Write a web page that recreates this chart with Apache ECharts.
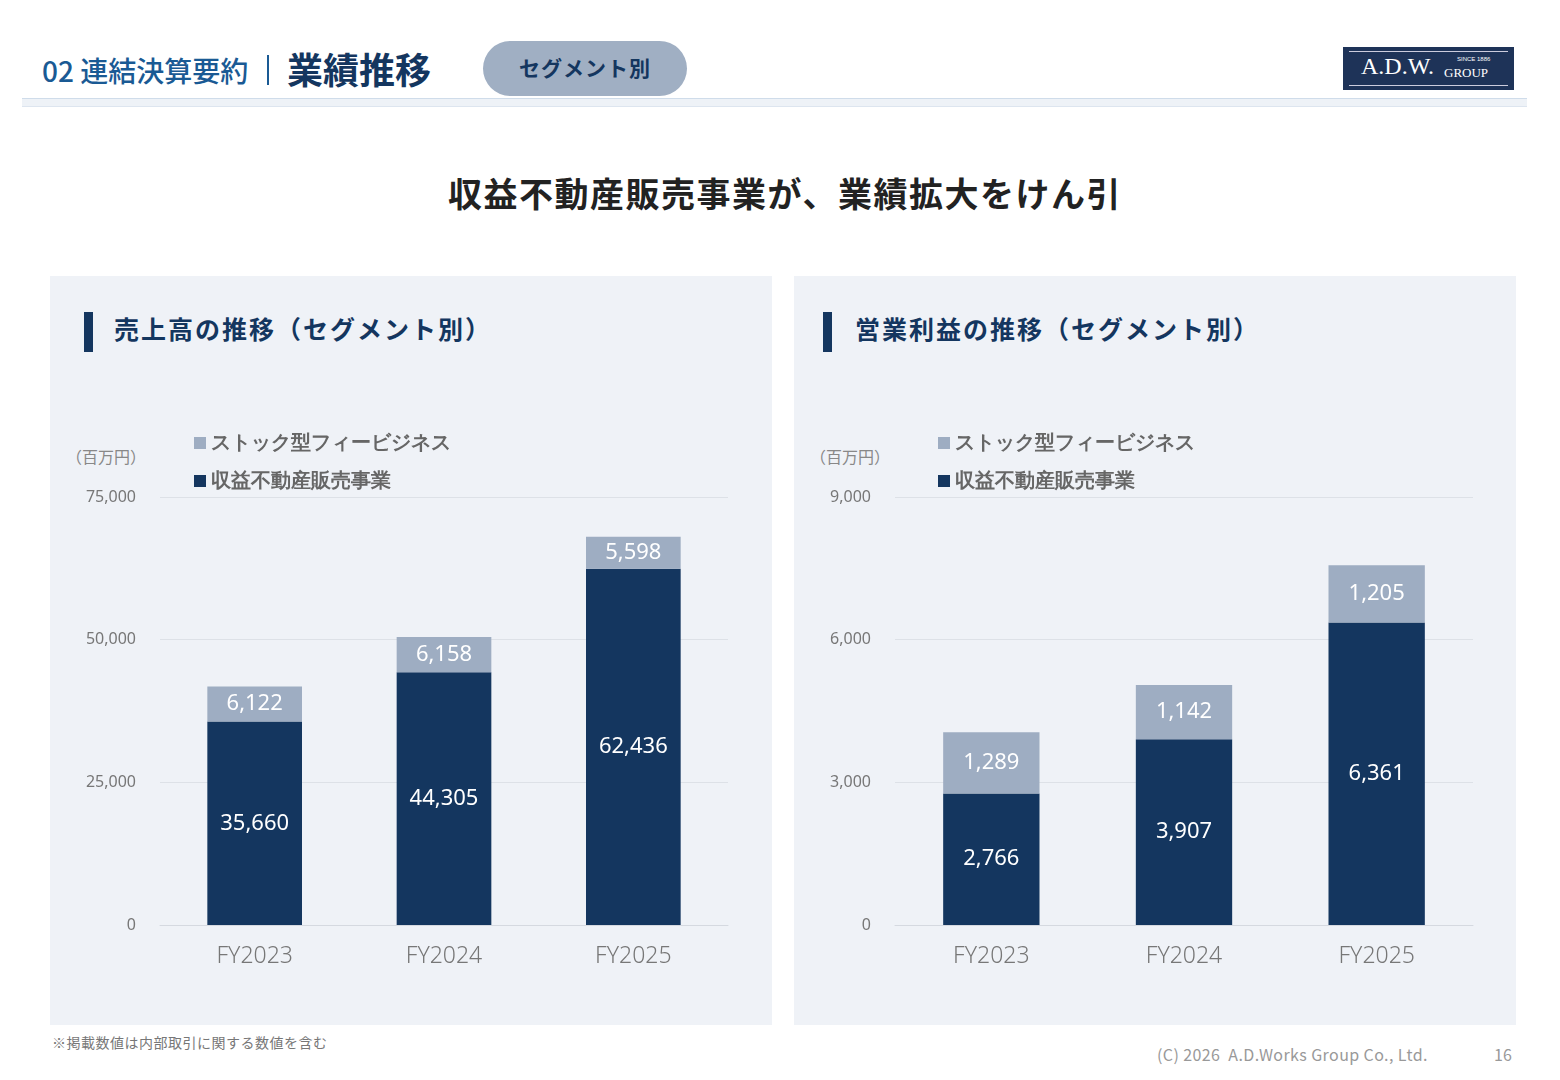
<!DOCTYPE html>
<html><head><meta charset="utf-8">
<script src="https://cdn.jsdelivr.net/npm/echarts@6/dist/echarts.min.js"></script>
<style>
body{margin:0;width:1560px;height:1080px;background:#fff;font-family:"Noto Sans CJK JP","Noto Sans",sans-serif;position:relative;overflow:hidden}
.a{position:absolute;white-space:nowrap}
</style></head><body>
<div class="a" style="left:42px;top:50px;font-size:28px;color:#1a5a94;font-weight:500">02 連結決算要約</div>
<div class="a" style="left:267px;top:55px;width:2px;height:30px;background:#1a5a94"></div>
<div class="a" style="left:287px;top:42px;font-size:36px;color:#14365f;font-weight:700">業績推移</div>
<div class="a" style="left:483px;top:41px;width:204px;height:55px;border-radius:28px;background:#a0afc3;color:#14365f;font-size:21px;font-weight:700;text-align:center;line-height:52px;letter-spacing:1px">セグメント別</div>
<div class="a" style="left:1343px;top:47px;width:171px;height:43px;background:#1e3358;color:#fff">
 <div class="a" style="left:6px;top:4px;width:159px;height:1px;background:#ccd"></div>
 <div class="a" style="left:6px;top:38px;width:159px;height:1px;background:#ccd"></div>
 <div class="a" style="left:18px;top:6px;font-family:'Liberation Serif';font-size:24px">A.D.W.</div>
 <div class="a" style="left:114px;top:9px;font-family:'Liberation Sans';font-size:6px">SINCE 1886</div>
 <div class="a" style="left:101px;top:18px;font-family:'Liberation Serif';font-size:13px">GROUP</div>
</div>
<div class="a" style="left:22px;top:98px;width:1505px;height:7px;background:#eef2f7;border-top:1px solid #cfdcea;border-bottom:1px solid #dde5ef"></div>
<div class="a" style="left:0;top:168px;width:1570px;text-align:center;font-size:34px;font-weight:700;color:#222;letter-spacing:1.5px">収益不動産販売事業が、業績拡大をけん引</div>
<div class="a" style="left:50px;top:276px;width:722px;height:749px;background:#eff2f7"></div>
<div class="a" style="left:794px;top:276px;width:722px;height:749px;background:#eff2f7"></div>
<div class="a" style="left:84px;top:312px;width:9px;height:40px;background:#14365f"></div>
<div class="a" style="left:114px;top:310px;font-size:25px;font-weight:700;color:#14365f;letter-spacing:2px">売上高の推移（セグメント別）</div>
<div class="a" style="left:823px;top:312px;width:9px;height:40px;background:#14365f"></div>
<div class="a" style="left:855px;top:310px;font-size:25px;font-weight:700;color:#14365f;letter-spacing:2px">営業利益の推移（セグメント別）</div>
<div class="a" style="left:66px;top:444px;font-size:16px;color:#888">（百万円）</div>
<div class="a" style="left:810px;top:444px;font-size:16px;color:#888">（百万円）</div>
<div class="a" style="left:52px;top:1032px;font-size:14px;color:#777;letter-spacing:0.5px">※掲載数値は内部取引に関する数値を含む</div>
<div class="a" style="left:1157px;top:1042px;font-size:16px;color:#999;letter-spacing:0.4px">(C) 2026&nbsp; A.D.Works Group Co., Ltd.</div>
<div class="a" style="left:1494px;top:1042px;font-size:16px;color:#999">16</div>
<div id="c" class="a" style="left:0;top:0;width:1560px;height:1080px"></div>
<script>
const categories=['FY2023','FY2024','FY2025'];
const salesRealEstate=[35660,44305,62436];
const salesStock=[6122,6158,5598];
const opRealEstate=[2766,3907,6361];
const opStock=[1289,1142,1205];
const salesTicks=[0,25000,50000,75000];
const opTicks=[0,3000,6000,9000];
const DARK='#14365f',LIGHT='#9eadc2';
const fmt=v=>v.toLocaleString('en-US');
function xa(i){return {type:'category',gridIndex:i,data:categories,axisLine:{lineStyle:{color:'#d5d9e0'}},axisTick:{show:false},axisLabel:{fontSize:23,color:'#777',margin:20,fontFamily:'Noto Sans',fontWeight:300}};}
function ya(i,t){return {type:'value',gridIndex:i,min:t[0],max:t[t.length-1],interval:t[1]-t[0],axisLabel:{fontSize:16,color:'#777',margin:24,formatter:fmt,fontFamily:'Noto Sans'},splitLine:{lineStyle:{color:'#dde1e7'}}};}
function lab(){return {show:true,position:'inside',color:'#fff',fontSize:22,formatter:p=>fmt(p.value),fontFamily:'Noto Sans'};}
function s(name,data,i,color,st){return {name,type:'bar',stack:st,xAxisIndex:i,yAxisIndex:i,data,barWidth:'50%',itemStyle:{color},label:lab()};}
const ch=echarts.init(document.getElementById('c'));
const lg=l=>({left:l,top:428,orient:'vertical',itemGap:18,itemWidth:12,itemHeight:12,icon:'rect',textStyle:{fontSize:20,color:'#666',fontWeight:'bold'},data:['ストック型フィービジネス','収益不動産販売事業']});
ch.setOption({animation:false,
grid:[{left:160,width:568,top:497,height:428},{left:895,width:578,top:497,height:428}],
xAxis:[xa(0),xa(1)],yAxis:[ya(0,salesTicks),ya(1,opTicks)],
legend:[lg(189),lg(933)],
series:[s('収益不動産販売事業',salesRealEstate,0,DARK,'a'),s('ストック型フィービジネス',salesStock,0,LIGHT,'a'),
s('収益不動産販売事業',opRealEstate,1,DARK,'b'),s('ストック型フィービジネス',opStock,1,LIGHT,'b')]});
</script></body></html>
